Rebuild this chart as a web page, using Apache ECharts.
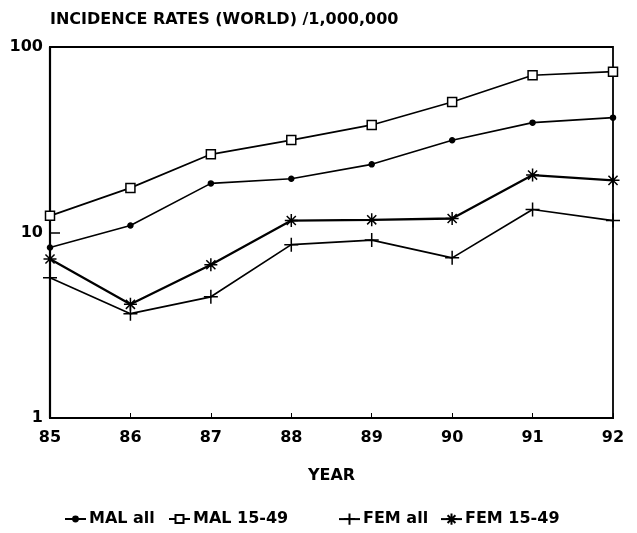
<!DOCTYPE html>
<html><head><meta charset="utf-8">
<script src="https://cdn.jsdelivr.net/npm/echarts@6/dist/echarts.min.js"></script>
<style>html,body{margin:0;padding:0;background:#fff}#c{width:637px;height:533px}</style>
</head><body><div id="c"></div>
<script>
const titleText = 'INCIDENCE RATES (WORLD) /1,000,000';
const xName = 'YEAR';
const years = [85, 86, 87, 88, 89, 90, 91, 92];
const malAll = [8.3, 10.9, 18.4, 19.5, 23.3, 31.4, 39.1, 41.6];
const mal1549 = [12.3, 17.4, 26.4, 31.5, 38.0, 50.5, 70.4, 73.6];
const femAll = [5.7, 3.65, 4.5, 8.6, 9.1, 7.3, 13.3, 11.6];
const fem1549 = [7.2, 4.1, 6.7, 11.6, 11.7, 11.9, 20.4, 19.1];
const seriesNames = ['MAL all', 'MAL 15-49', 'FEM all', 'FEM 15-49'];

const FONT = '"DejaVu Sans", "Liberation Sans", Arial, sans-serif';
const pair = arr => years.map((y, i) => [y, arr[i]]);
const plusPath = 'path://M0,5L10,5M5,0L5,10';
const starPath = 'path://M5,0L5,10M0,5L10,5M1.5,1.5L8.5,8.5M8.5,1.5L1.5,8.5';

function mk(name, data, symbol, size, fill, lw) {
  return {
    name: name, type: 'line', data: pair(data),
    symbol: symbol, symbolSize: size, showSymbol: true,
    lineStyle: {color: '#000', width: lw},
    itemStyle: {color: fill, borderColor: '#000', borderWidth: 1.5},
    emphasis: {disabled: true}, animation: false
  };
}
function leg(name, left, ih) {
  return {
    data: [name], left: left, top: 511, padding: 0, itemWidth: 21, itemHeight: ih, itemGap: 0,
    textStyle: {fontFamily: FONT, fontSize: 16, fontWeight: 'bold', color: '#000', padding: [0, 0, 0, -2]},
    selectedMode: false
  };
}

const chart = echarts.init(document.getElementById('c'), null, {renderer: 'canvas'});
chart.setOption({
  backgroundColor: '#fff',
  animation: false,
  title: {
    text: titleText, left: 45, top: 7,
    textStyle: {fontFamily: FONT, fontSize: 16, fontWeight: 'bold', color: '#000'}
  },
  legend: [
    leg(seriesNames[0], 64, 6),
    leg(seriesNames[1], 168, 10),
    leg(seriesNames[2], 338, 14),
    leg(seriesNames[3], 440, 14)
  ],
  grid: {left: 50, right: 24, top: 47, bottom: 115, show: true, borderColor: '#000', borderWidth: 1.8},
  xAxis: {
    type: 'value', min: 85, max: 92, interval: 1,
    name: xName, nameLocation: 'middle', nameGap: 50,
    nameTextStyle: {fontFamily: FONT, fontSize: 16, fontWeight: 'bold', color: '#000'},
    axisLine: {show: true, lineStyle: {color: '#000', width: 2.2}},
    axisTick: {show: true, inside: true, length: 5, lineStyle: {color: '#000', width: 1}},
    axisLabel: {fontFamily: FONT, fontSize: 16, fontWeight: 'bold', color: '#000', margin: 12},
    splitLine: {show: false}
  },
  yAxis: {
    type: 'log', logBase: 10, min: 1, max: 100,
    axisLine: {show: true, lineStyle: {color: '#000', width: 2.2}},
    axisTick: {show: true, inside: true, length: 10, lineStyle: {color: '#000', width: 1.5}},
    minorTick: {show: false},
    axisLabel: {fontFamily: FONT, fontSize: 16, fontWeight: 'bold', color: '#000', margin: 7},
    splitLine: {show: false}
  },
  series: [
    mk(seriesNames[0], malAll, 'circle', 5, '#000', 1.6),
    mk(seriesNames[1], mal1549, 'rect', 9, '#fff', 1.7),
    mk(seriesNames[2], femAll, plusPath, 14, 'none', 1.7),
    mk(seriesNames[3], fem1549, starPath, 13, 'none', 2.3)
  ]
});
</script></body></html>
